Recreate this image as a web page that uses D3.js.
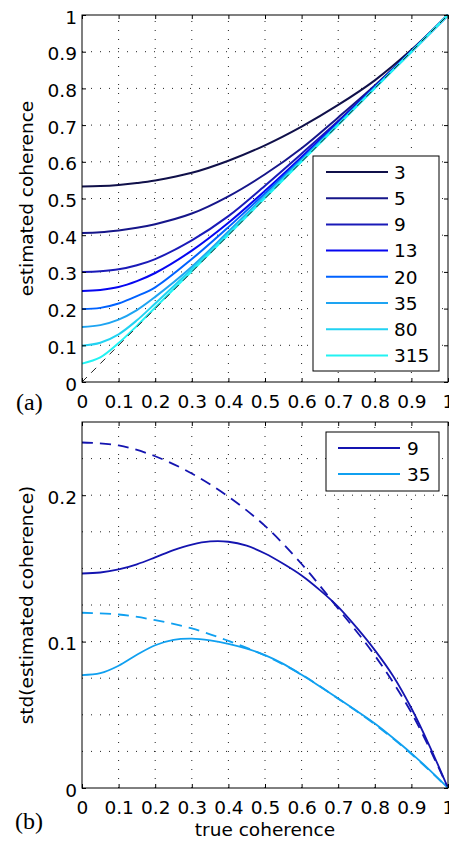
<!DOCTYPE html>
<html>
<head>
<meta charset="utf-8">
<script src="https://cdn.jsdelivr.net/npm/d3@7"></script>
<style>
  html, body { margin: 0; padding: 0; background: #fff; }
  svg { display: block; font-family: "DejaVu Sans", sans-serif; }
  .grid line { stroke: #222; stroke-width: 1; stroke-dasharray: 1,8; }
  .axis text { font-family: "DejaVu Sans", sans-serif; font-size: 18.5px; fill: #000; }
  .axis line { stroke: #000; }
  .frame { fill: none; stroke: #000; stroke-width: 1; }
</style>
</head>
<body>
<div id="graphic"></div>
<script>
// Data
// ---------------------------------------------------------------------------
// (a) mean estimated coherence per number of looks
var trueCoh = [0, 0.05, 0.1, 0.15, 0.2, 0.3, 0.4, 0.5, 0.6, 0.7, 0.8, 0.9, 1];
var looks = ["3", "5", "9", "13", "20", "35", "80", "315"];
var bias3   = [0.533, 0.534, 0.537, 0.542, 0.549, 0.570, 0.603, 0.645, 0.696, 0.755, 0.822, 0.905, 1];
var bias5   = [0.406, 0.408, 0.413, 0.420, 0.430, 0.459, 0.506, 0.566, 0.637, 0.721, 0.808, 0.902, 1];
var bias9   = [0.300, 0.302, 0.307, 0.318, 0.335, 0.386, 0.452, 0.535, 0.622, 0.711, 0.805, 0.901, 1];
var bias13  = [0.248, 0.251, 0.259, 0.275, 0.297, 0.358, 0.434, 0.521, 0.613, 0.707, 0.803, 0.901, 1];
var bias20  = [0.199, 0.202, 0.214, 0.234, 0.258, 0.335, 0.422, 0.514, 0.608, 0.704, 0.802, 0.900, 1];
var bias35  = [0.150, 0.155, 0.170, 0.196, 0.232, 0.314, 0.410, 0.507, 0.605, 0.703, 0.801, 0.900, 1];
var bias80  = [0.099, 0.107, 0.130, 0.168, 0.214, 0.308, 0.405, 0.504, 0.602, 0.701, 0.801, 0.900, 1];
var bias315 = [0.050, 0.067, 0.106, 0.153, 0.203, 0.302, 0.401, 0.501, 0.601, 0.700, 0.800, 0.900, 1];
var biasColors = ["#10104a", "#16168a", "#1a1ab8", "#0606f0", "#0062ff", "#1ea4f2", "#22d2f2", "#22f2f2"];

// (b) std of estimated coherence, simulated (solid) and bound (dashed)
var stdCoh = [0, 0.05, 0.1, 0.15, 0.2, 0.25, 0.3, 0.35, 0.4, 0.45, 0.5,
              0.55, 0.6, 0.65, 0.7, 0.75, 0.8, 0.85, 0.9, 0.95, 1];
var std9  = [0.1465, 0.1472, 0.1493, 0.1528, 0.1575, 0.1625, 0.1663, 0.1684, 0.1682, 0.1655, 0.1602,
             0.1532, 0.1452, 0.1352, 0.1238, 0.1097, 0.0942, 0.0765, 0.0545, 0.0285, 0];
var std35 = [0.0771, 0.0784, 0.0835, 0.0910, 0.0975, 0.1012, 0.1020, 0.1008, 0.0985, 0.0952, 0.0908,
             0.0848, 0.0773, 0.0694, 0.0612, 0.0528, 0.0441, 0.0342, 0.0237, 0.0122, 0];
var boundCoh = [0, 0.1, 0.2, 0.3, 0.4, 0.5, 0.6, 0.7, 0.8, 0.9, 1];
var bound9  = [0.236, 0.234, 0.2266, 0.2148, 0.199, 0.179, 0.153, 0.1225, 0.0905, 0.0515, 0];
var bound35 = [0.1197, 0.1185, 0.1147, 0.109, 0.1005, 0.0905, 0.0775, 0.061, 0.0435, 0.0232, 0];
var stdLooks = ["9", "35"];
var stdColors = ["#1414b0", "#10a0f0"];

var xTicks = [0, 0.1, 0.2, 0.3, 0.4, 0.5, 0.6, 0.7, 0.8, 0.9, 1];
var yTicksA = [0, 0.1, 0.2, 0.3, 0.4, 0.5, 0.6, 0.7, 0.8, 0.9, 1];
var yTicksB = [0, 0.1, 0.2];
var yGridB = [0.025, 0.05, 0.075, 0.1, 0.125, 0.15, 0.175, 0.2, 0.225];

(function(d3) {
  var W = 449, H = 843;
  var svg = d3.select("#graphic").append("svg")
      .attr("width", W)
      .attr("height", H);

  svg.append("rect").attr("width", W).attr("height", H).attr("fill", "#fff");

  var fmt = function(d) { return d === 0 || d === 1 ? String(d) : d3.format(".1f")(d); };
  var smooth = d3.curveCatmullRom.alpha(0.5);

  // Shared panel builder: scales + dotted grid
  function panel(box, yDomain, yGrid) {
    var x = d3.scaleLinear().domain([0, 1]).range([box.left, box.right]);
    var y = d3.scaleLinear().domain(yDomain).range([box.bottom, box.top]);
    var g = svg.append("g");

    var grid = g.append("g").attr("class", "grid");
    grid.selectAll("line.v")
        .data(xTicks.slice(1, -1))
      .enter().append("line")
        .attr("x1", function(d) { return x(d); })
        .attr("x2", function(d) { return x(d); })
        .attr("y1", box.bottom)
        .attr("y2", box.top);
    grid.selectAll("line.h")
        .data(yGrid)
      .enter().append("line")
        .attr("x1", box.left)
        .attr("x2", box.right)
        .attr("y1", function(d) { return y(d); })
        .attr("y2", function(d) { return y(d); });

    return { x: x, y: y, g: g };
  }

  // Inward ticks on all four sides, labels bottom/left, box frame
  function axes(p, box, yTicks) {
    var bottom = p.g.append("g").attr("class", "axis")
        .attr("transform", "translate(0," + box.bottom + ")")
        .call(d3.axisBottom(p.x).tickValues(xTicks).tickSize(-4).tickFormat(fmt));
    bottom.selectAll("text").attr("dy", null).attr("y", 26);

    p.g.append("g").attr("class", "axis")
        .attr("transform", "translate(0," + box.top + ")")
        .call(d3.axisTop(p.x).tickValues(xTicks).tickSize(-4).tickFormat(""));

    var left = p.g.append("g").attr("class", "axis")
        .attr("transform", "translate(" + box.left + ",0)")
        .call(d3.axisLeft(p.y).tickValues(yTicks).tickSize(-4).tickPadding(5).tickFormat(fmt));
    left.selectAll("text").attr("dy", null).attr("y", 8);

    p.g.append("g").attr("class", "axis")
        .attr("transform", "translate(" + box.right + ",0)")
        .call(d3.axisRight(p.y).tickValues(yTicks).tickSize(-4).tickFormat(""));

    p.g.selectAll(".axis path.domain").remove();

    p.g.append("rect").attr("class", "frame")
        .attr("x", box.left)
        .attr("y", box.top)
        .attr("width", box.right - box.left)
        .attr("height", box.bottom - box.top);
  }

  function legend(g, box, labels, colors, rowH, lineX, textX) {
    g.append("rect")
        .attr("x", box.x).attr("y", box.y)
        .attr("width", box.w).attr("height", box.h)
        .attr("fill", "#fff").attr("stroke", "#000");
    var rows = g.selectAll("g.entry")
        .data(labels)
      .enter().append("g")
        .attr("class", "entry")
        .attr("transform", function(d, i) { return "translate(0," + (box.first + i * rowH) + ")"; });
    rows.append("line")
        .attr("x1", lineX[0]).attr("x2", lineX[1])
        .attr("stroke", function(d, i) { return colors[i]; })
        .attr("stroke-width", 2);
    rows.append("text")
        .attr("x", textX).attr("y", 6.8)
        .attr("font-size", 18.5)
        .text(function(d) { return d; });
  }

  // (a) estimated coherence
  // ---------------------------------------------------------------------------
  var boxA = { left: 82, right: 448, top: 15, bottom: 382 };
  var pa = panel(boxA, [0, 1], yTicksA.slice(1, -1));
  var seriesA = [bias3, bias5, bias9, bias13, bias20, bias35, bias80, bias315];

  var lineA = d3.line()
      .x(function(d, i) { return pa.x(trueCoh[i]); })
      .y(function(d) { return pa.y(d); })
      .curve(smooth);

  pa.g.append("g").selectAll("path")
      .data(seriesA)
    .enter().append("path")
      .attr("d", lineA)
      .attr("fill", "none")
      .attr("stroke", function(d, i) { return biasColors[i]; })
      .attr("stroke-width", 2);

  pa.g.append("line")
      .attr("x1", pa.x(0)).attr("y1", pa.y(0))
      .attr("x2", pa.x(1)).attr("y2", pa.y(1))
      .attr("stroke", "#222")
      .attr("stroke-width", 1)
      .attr("stroke-dasharray", "7,6");

  axes(pa, boxA, yTicksA);
  legend(pa.g, { x: 313, y: 156, w: 126, h: 215, first: 172 }, looks, biasColors, 26.2, [326, 388], 394);

  // (b) std of estimated coherence
  // ---------------------------------------------------------------------------
  var boxB = { left: 82, right: 448, top: 422, bottom: 788 };
  var pb = panel(boxB, [0, 0.25], yGridB);

  var lineStd = d3.line()
      .x(function(d, i) { return pb.x(stdCoh[i]); })
      .y(function(d) { return pb.y(d); })
      .curve(smooth);
  var lineBound = d3.line()
      .x(function(d, i) { return pb.x(boundCoh[i]); })
      .y(function(d) { return pb.y(d); })
      .curve(smooth);

  [std9, std35].forEach(function(s, i) {
    pb.g.append("path")
        .attr("d", lineStd(s))
        .attr("fill", "none")
        .attr("stroke", stdColors[i])
        .attr("stroke-width", 1.8);
  });
  [bound9, bound35].forEach(function(s, i) {
    pb.g.append("path")
        .attr("d", lineBound(s))
        .attr("fill", "none")
        .attr("stroke", stdColors[i])
        .attr("stroke-width", 1.8)
        .attr("stroke-dasharray", "11,7");
  });

  axes(pb, boxB, yTicksB);
  legend(pb.g, { x: 326, y: 432, w: 113, h: 59, first: 448 }, stdLooks, stdColors, 26, [338, 400], 407);

  // Axis titles and panel tags
  // ---------------------------------------------------------------------------
  svg.append("text")
      .attr("transform", "translate(33," + (boxA.top + boxA.bottom) / 2 + ") rotate(-90)")
      .attr("text-anchor", "middle")
      .attr("font-size", 18.5)
      .text("estimated coherence");

  svg.append("text")
      .attr("transform", "translate(33," + (boxB.top + boxB.bottom) / 2 + ") rotate(-90)")
      .attr("text-anchor", "middle")
      .attr("font-size", 18.5)
      .text("std(estimated coherence)");

  svg.append("text")
      .attr("x", (boxB.left + boxB.right) / 2)
      .attr("y", 836)
      .attr("text-anchor", "middle")
      .attr("font-size", 18.5)
      .text("true coherence");

  svg.append("text")
      .attr("x", 16).attr("y", 410)
      .attr("font-family", "'Liberation Serif', serif")
      .attr("font-size", 24)
      .text("(a)");

  svg.append("text")
      .attr("x", 15).attr("y", 829)
      .attr("font-family", "'Liberation Serif', serif")
      .attr("font-size", 24)
      .text("(b)");
})(d3);
</script>
</body>
</html>
